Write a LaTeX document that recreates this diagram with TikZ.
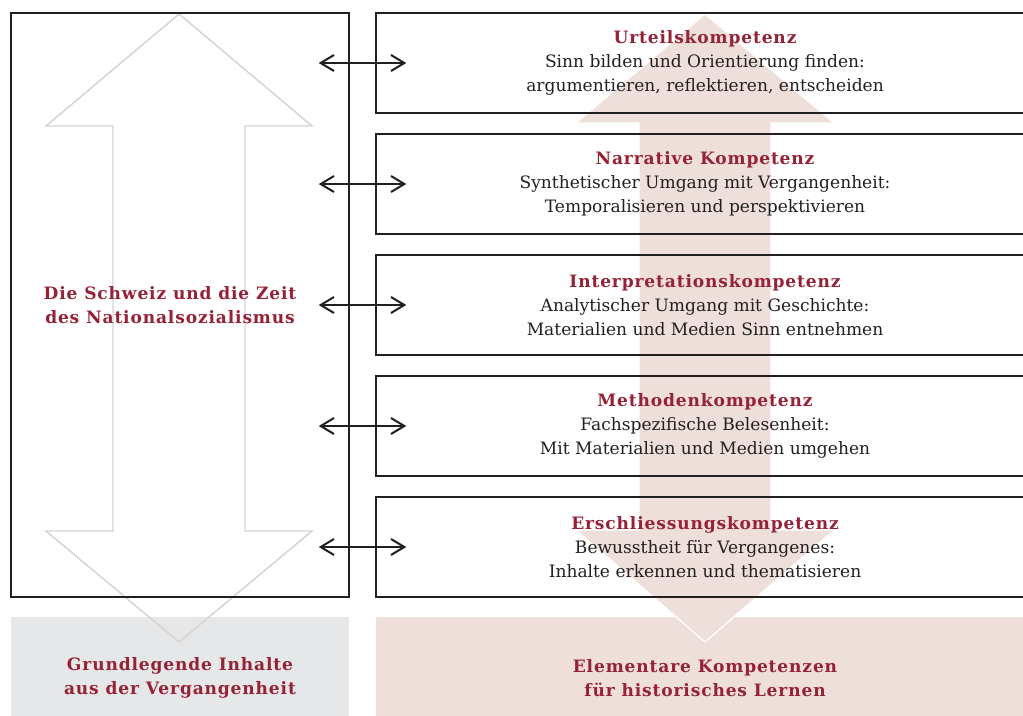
\documentclass[tikz,border=0pt]{standalone}
\usepackage{fontspec}
\setmainfont{DejaVu Serif}
\newfontfamily\headfont[LetterSpace=5]{DejaVu Serif}
\usetikzlibrary{%
    arrows.meta,
    positioning
}
\definecolor{kompred}{HTML}{952236}
\definecolor{komppink}{HTML}{EEDFDB}
\definecolor{inhaltgray}{HTML}{E6E7E8}
\definecolor{arrowgray}{HTML}{D4D4D4}
\definecolor{boxline}{HTML}{231F20}
\newcommand\kopf[1]{{\headfont\bfseries\color{kompred}#1}}
\tikzset{
    biarrow/.style = {{Straight Barb[length=10pt,width=12pt]}-{Straight Barb[length=10pt,width=12pt]},
                      line width=1.5pt, draw=boxline,
                      shorten <=-23.25pt, shorten >=-23.25pt},
    kompbox/.style = {draw=boxline, line width=1.1pt, minimum width=493.5pt,
                      minimum height=75pt, align=center, text=boxline,
                      font=\fontsize{12.8}{18}\selectfont},
    footbox/.style = {minimum height=91.5pt, align=center, text=kompred,
                      font=\headfont\bfseries\fontsize{12.8}{18}\selectfont}
}

\begin{document}
\begin{tikzpicture}[x=0.75pt,y=-0.75pt]
    \clip (0,0) rectangle (1023,715);
    \fill[white] (0,0) rectangle (1023,715);

    % Fusszeile
    \node[footbox, fill=inhaltgray, minimum width=253.5pt] (grund) at (180,678)
        {Grundlegende Inhalte\\aus der Vergangenheit};
    \node[footbox, fill=komppink, minimum width=493.5pt] (elem) at (705,678)
        {Elementare Kompetenzen\\f\"ur historisches Lernen};

    % grosse Pfeile
    \filldraw[fill=komppink, draw=white, line width=1pt]
        (705,14) -- (834,123) -- (771,123) -- (771,530) -- (834,530) -- (705,642)
        -- (576,530) -- (639,530) -- (639,123) -- (576,123) -- cycle;
    \draw[arrowgray, line width=1.1pt]
        (179,14) -- (312,126) -- (245,126) -- (245,531) -- (312,531) -- (179,642)
        -- (46,531) -- (113,531) -- (113,126) -- (46,126) -- cycle;

    % Inhalte
    \node[draw=boxline, line width=1.1pt, minimum width=253.5pt, minimum height=438pt]
        (inhalt) at (180,305) {};
    \node[align=center, text=kompred, font=\headfont\bfseries\fontsize{12.8}{18}\selectfont]
        (zeit) at (170,305) {Die Schweiz und die Zeit\\des Nationalsozialismus};

    % Kompetenzen
    \node[kompbox] (k1) at (705,63)
        {\kopf{Urteilskompetenz}\\Sinn bilden und Orientierung finden:\\argumentieren, reflektieren, entscheiden};
    \node[kompbox] (k2) at (705,184)
        {\kopf{Narrative Kompetenz}\\Synthetischer Umgang mit Vergangenheit:\\Temporalisieren und perspektivieren};
    \node[kompbox] (k3) at (705,305)
        {\kopf{Interpretationskompetenz}\\Analytischer Umgang mit Geschichte:\\Materialien und Medien Sinn entnehmen};
    \node[kompbox] (k4) at (705,426)
        {\kopf{Methodenkompetenz}\\Fachspezifische Belesenheit:\\Mit Materialien und Medien umgehen};
    \node[kompbox] (k5) at (705,547)
        {\kopf{Erschliessungskompetenz}\\Bewusstheit f\"ur Vergangenes:\\Inhalte erkennen und thematisieren};

    \foreach \k in {1,...,5}
    \draw[biarrow] (inhalt.east |- k\k.west) -- (k\k.west);
\end{tikzpicture}
\end{document}
